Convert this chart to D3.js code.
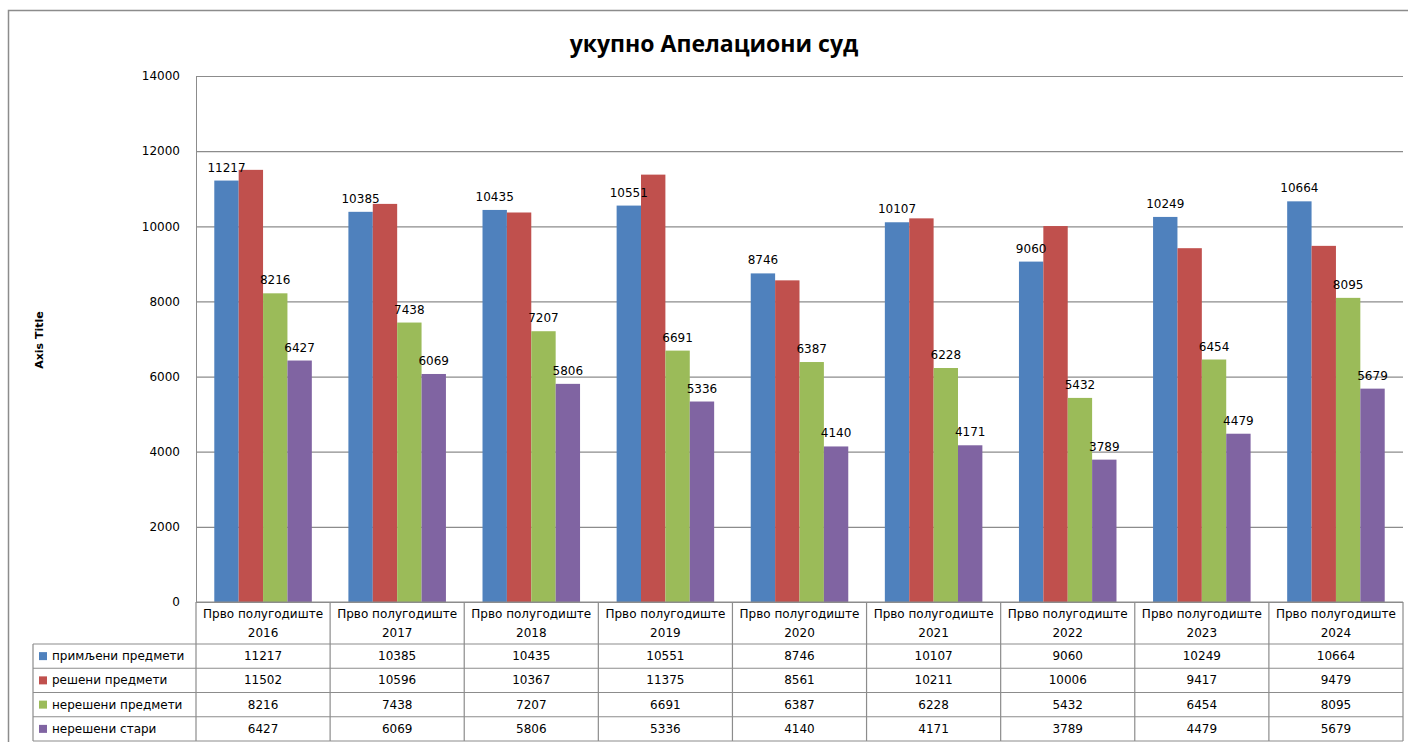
<!DOCTYPE html>
<html>
<head>
<meta charset="utf-8">
<script src="https://cdn.jsdelivr.net/npm/d3@7"></script>
<style>
  body { margin: 0; background: #fff; }
  text { font-family: "DejaVu Sans", sans-serif; fill: #000; }
</style>
</head>
<body>
<div id="chart"></div>
<script>
// data
var years = ["2016", "2017", "2018", "2019", "2020", "2021", "2022", "2023", "2024"];
var catPrefix = "Прво полугодиште";
var seriesNames = ["примљени предмети", "решени предмети", "нерешени предмети", "нерешени стари"];
var primljeni = [11217, 10385, 10435, 10551, 8746, 10107, 9060, 10249, 10664];
var reseni = [11502, 10596, 10367, 11375, 8561, 10211, 10006, 9417, 9479];
var nereseni = [8216, 7438, 7207, 6691, 6387, 6228, 5432, 6454, 8095];
var stari = [6427, 6069, 5806, 5336, 4140, 4171, 3789, 4479, 5679];
var yTicks = [0, 2000, 4000, 6000, 8000, 10000, 12000, 14000];
var colors = ["#4F81BD", "#C0504D", "#9BBB59", "#8064A2"];
var labelled = [true, false, true, true];

var seriesValues = [primljeni, reseni, nereseni, stari];

//SVG size
var svgWidth = 1408;
var svgHeight = 742;

//plot area (chart coords)
var plot = { left: 196, right: 1403, top: 76, bottom: 602 };

var svg = d3.select("#chart")
  .append("svg")
  .attr("width", svgWidth)
  .attr("height", svgHeight);

//outer chart border
svg.append("rect")
  .attr("x", 8.5).attr("y", 10.5)
  .attr("width", 1420).attr("height", 760)
  .attr("fill", "#fff")
  .attr("stroke", "#8c8c8c")
  .attr("stroke-width", 1.5);

//title
svg.append("text")
  .attr("x", 714).attr("y", 52)
  .attr("text-anchor", "middle")
  .style("font-family", "'Open Sans', sans-serif")
  .style("font-weight", "bold")
  .style("font-size", "23px")
  .text("укупно Апелациони суд");

//scales
var x0 = d3.scaleBand()
  .domain(years)
  .range([plot.left, plot.right])
  .paddingInner(0).paddingOuter(0);

var unit = x0.bandwidth() / 5.5;
var x1 = d3.scaleBand()
  .domain(d3.range(seriesNames.length))
  .range([unit * 0.75, unit * 4.75]);

var y = d3.scaleLinear()
  .domain([0, 14000])
  .range([plot.bottom, plot.top]);

//gridlines + left axis
var leftAxis = d3.axisLeft(y)
  .tickValues(yTicks)
  .tickSize(-(plot.right - plot.left))
  .tickPadding(16)
  .tickFormat(d3.format("d"));

var gAxis = svg.append("g")
  .attr("transform", `translate(${plot.left}, 0)`)
  .call(leftAxis);
gAxis.select(".domain").attr("stroke", "#8c8c8c");
gAxis.selectAll(".tick line").attr("stroke", "#8c8c8c").attr("stroke-width", 1.2);
gAxis.selectAll(".tick text")
  .style("font-family", "'DejaVu Sans', sans-serif")
  .style("font-size", "12px")
  .attr("fill", "#000");

//axis title
svg.append("text")
  .attr("transform", "translate(43, 340) rotate(-90)")
  .attr("text-anchor", "middle")
  .style("font-weight", "bold")
  .style("font-size", "11px")
  .text("Axis Title");

//bars
var groups = svg.append("g").selectAll("g")
  .data(years)
  .join("g")
  .attr("transform", d => `translate(${x0(d)}, 0)`);

groups.selectAll("rect")
  .data((d, i) => seriesValues.map((vals, s) => ({ s: s, v: vals[i] })))
  .join("rect")
  .attr("x", d => x1(d.s))
  .attr("width", x1.bandwidth())
  .attr("y", d => y(d.v))
  .attr("height", d => y(0) - y(d.v))
  .attr("fill", d => colors[d.s]);

//data labels
groups.selectAll("text.lbl")
  .data((d, i) => seriesValues.map((vals, s) => ({ s: s, v: vals[i] })).filter(d => labelled[d.s]))
  .join("text")
  .attr("class", "lbl")
  .attr("x", d => x1(d.s) + x1.bandwidth() / 2)
  .attr("y", d => y(d.v) - 9)
  .attr("text-anchor", "middle")
  .style("font-size", "12px")
  .text(d => d.v);

//data table
var rowTop = 644, rowH = 24.25, tableLeft = 33;
var grid = svg.append("g").attr("stroke", "#8c8c8c").attr("stroke-width", 1.2);

//vertical lines
var vx = years.map(d => x0(d)).concat([plot.right]);
grid.selectAll("line.v")
  .data(vx)
  .join("line")
  .attr("x1", d => d).attr("x2", d => d)
  .attr("y1", plot.bottom).attr("y2", rowTop + rowH * 4);
grid.append("line")
  .attr("x1", tableLeft).attr("x2", tableLeft)
  .attr("y1", rowTop).attr("y2", rowTop + rowH * 4);

//horizontal lines
grid.selectAll("line.h")
  .data(d3.range(5))
  .join("line")
  .attr("x1", tableLeft).attr("x2", plot.right)
  .attr("y1", d => rowTop + d * rowH).attr("y2", d => rowTop + d * rowH);
grid.append("line")
  .attr("x1", plot.left).attr("x2", plot.right)
  .attr("y1", plot.bottom).attr("y2", plot.bottom);

//category header
var header = svg.append("g").selectAll("g")
  .data(years)
  .join("g")
  .attr("transform", d => `translate(${x0(d) + x0.bandwidth() / 2}, 0)`);
header.append("text")
  .attr("y", 618).attr("text-anchor", "middle")
  .style("font-size", "12px")
  .text(catPrefix);
header.append("text")
  .attr("y", 637).attr("text-anchor", "middle")
  .style("font-size", "12px")
  .text(d => d);

//legend column + values
seriesNames.forEach(function(name, s) {
  var cy = rowTop + s * rowH + rowH / 2;
  svg.append("rect")
    .attr("x", 39).attr("y", cy - 4)
    .attr("width", 8).attr("height", 8)
    .attr("fill", colors[s]);
  svg.append("text")
    .attr("x", 52).attr("y", cy + 4)
    .style("font-size", "12px")
    .text(name);
  svg.append("g").selectAll("text")
    .data(seriesValues[s])
    .join("text")
    .attr("x", (d, i) => x0(years[i]) + x0.bandwidth() / 2)
    .attr("y", cy + 4)
    .attr("text-anchor", "middle")
    .style("font-size", "12px")
    .text(d => d);
});
</script>
</body>
</html>
